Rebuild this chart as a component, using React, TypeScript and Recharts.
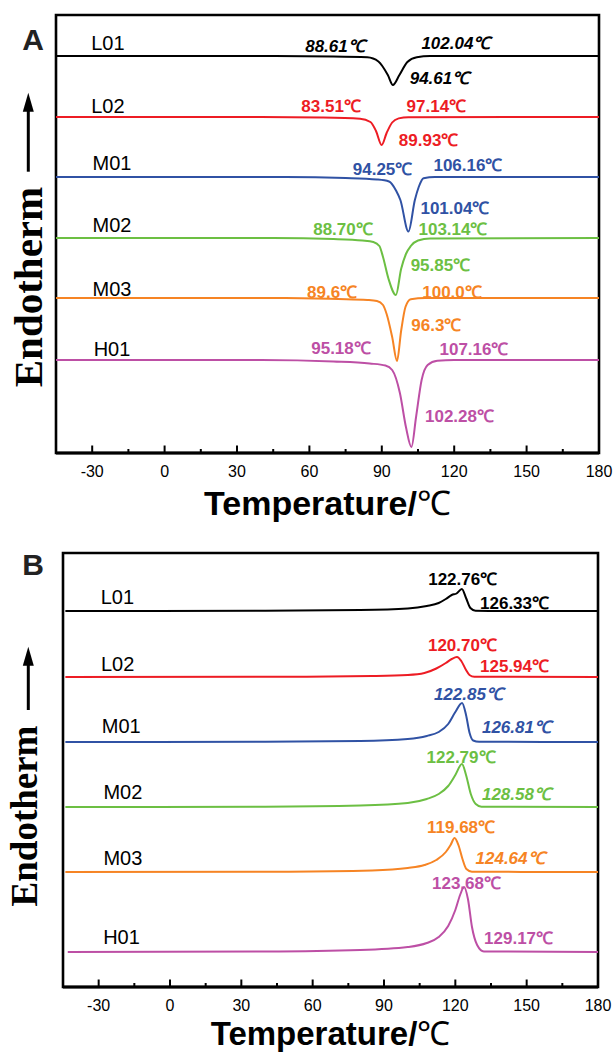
import React from 'react';
import { LineChart, Line, XAxis, YAxis, ReferenceArea, ReferenceDot } from 'recharts';

type Pt = { t: number; v: number };
type Ann = { s: number; t: number; v: number; text: string };

const SERIES = ['L01', 'L02', 'M01', 'M02', 'M03', 'H01'];
const COLORS = ['#000000', '#ed1c24', '#3052a4', '#6cbf43', '#f68424', '#bd4fa5'];

const X_DOMAIN: [number, number] = [-45, 180];
const X_TICKS = [-30, -15, 0, 15, 30, 45, 60, 75, 90, 105, 120, 135, 150, 165, 180];
const MAJOR_STEP = 30;

// ---------- Panel A (offset heat flow, melting troughs) ----------
const A_L01: Pt[] = [
  { t: -45, v: 397 }, { t: 45, v: 397 }, { t: 70, v: 396.6 }, { t: 84, v: 395.7 },
  { t: 88.6, v: 391.5 }, { t: 92.5, v: 378 }, { t: 94.61, v: 368 }, { t: 97.3, v: 378 },
  { t: 100.6, v: 391 }, { t: 104.5, v: 395.8 }, { t: 110, v: 396.9 }, { t: 180, v: 397 },
];
const A_L02: Pt[] = [
  { t: -45, v: 336 }, { t: 40, v: 336 }, { t: 65, v: 335.5 }, { t: 81, v: 334.3 },
  { t: 85.3, v: 331 }, { t: 87.6, v: 322 }, { t: 89.93, v: 308 }, { t: 92, v: 320 },
  { t: 94.3, v: 330.5 }, { t: 97, v: 334.6 }, { t: 101, v: 335.8 }, { t: 180, v: 336 },
];
const A_M01: Pt[] = [
  { t: -45, v: 276 }, { t: 50, v: 276 }, { t: 75, v: 275 }, { t: 88, v: 273.5 },
  { t: 93, v: 271.5 }, { t: 96, v: 262 }, { t: 97.7, v: 253 }, { t: 101.04, v: 221.5 },
  { t: 103.7, v: 253 }, { t: 105.3, v: 266 }, { t: 107.3, v: 274.8 }, { t: 112, v: 276 },
  { t: 180, v: 276 },
];
const A_M02: Pt[] = [
  { t: -45, v: 215 }, { t: 45, v: 215 }, { t: 70, v: 214 }, { t: 82, v: 212.5 },
  { t: 86.5, v: 211 }, { t: 89, v: 207 }, { t: 90.5, v: 196 }, { t: 92.8, v: 174 },
  { t: 95.85, v: 158 }, { t: 98, v: 184 }, { t: 100, v: 199 }, { t: 102, v: 207 },
  { t: 105, v: 212.5 }, { t: 110, v: 214.5 }, { t: 180, v: 215 },
];
const A_M03: Pt[] = [
  { t: -45, v: 155 }, { t: 50, v: 155 }, { t: 72, v: 154 }, { t: 84, v: 153 },
  { t: 88, v: 152 }, { t: 90.5, v: 148 }, { t: 92, v: 139 }, { t: 94.3, v: 116 },
  { t: 96.3, v: 92 }, { t: 98, v: 122 }, { t: 99.8, v: 146 }, { t: 102, v: 153.8 },
  { t: 108, v: 155 }, { t: 180, v: 155 },
];
const A_H01: Pt[] = [
  { t: -45, v: 93 }, { t: 40, v: 93 }, { t: 70, v: 91.5 }, { t: 85, v: 89.5 },
  { t: 91.5, v: 87.5 }, { t: 94.3, v: 83 }, { t: 97.5, v: 60 }, { t: 100, v: 26 },
  { t: 102.28, v: 6 }, { t: 104.2, v: 36 }, { t: 106.5, v: 73 }, { t: 109, v: 88 },
  { t: 113, v: 92.3 }, { t: 120, v: 93 }, { t: 180, v: 93 },
];
const A_SERIES = [A_L01, A_L02, A_M01, A_M02, A_M03, A_H01];

const A_NAME_POS: Pt[] = [
  { t: -23.5, v: 410 }, { t: -23.5, v: 347 }, { t: -21.8, v: 290 },
  { t: -21.8, v: 228 }, { t: -21.8, v: 164.5 }, { t: -21.8, v: 104.5 },
];
const A_ANN: Ann[] = [
  { s: 0, t: 70.6, v: 407.3, text: '88.61℃' },
  { s: 0, t: 120.7, v: 410, text: '102.04℃' },
  { s: 0, t: 113.9, v: 374.7, text: '94.61℃' },
  { s: 1, t: 69, v: 347, text: '83.51℃' },
  { s: 1, t: 112.6, v: 347.2, text: '97.14℃' },
  { s: 1, t: 109.4, v: 313, text: '89.93℃' },
  { s: 2, t: 90.3, v: 284.5, text: '94.25℃' },
  { s: 2, t: 125.7, v: 288, text: '106.16℃' },
  { s: 2, t: 120.3, v: 245, text: '101.04℃' },
  { s: 3, t: 73.9, v: 223.7, text: '88.70℃' },
  { s: 3, t: 119.5, v: 223.7, text: '103.14℃' },
  { s: 3, t: 114.3, v: 188, text: '95.85℃' },
  { s: 4, t: 69.4, v: 161, text: '89.6℃' },
  { s: 4, t: 119.1, v: 161, text: '100.0℃' },
  { s: 4, t: 112.6, v: 128, text: '96.3℃' },
  { s: 5, t: 73.1, v: 105, text: '95.18℃' },
  { s: 5, t: 128.2, v: 103.7, text: '107.16℃' },
  { s: 5, t: 122.2, v: 37.5, text: '102.28℃' },
];
const A_ITALIC = ['88.61℃', '102.04℃', '94.61℃'];

// ---------- Panel B (offset heat flow, crystallization peaks) ----------
const B_L01: Pt[] = [
  { t: -44, v: 376 }, { t: 40, v: 376.3 }, { t: 80, v: 377 }, { t: 100, v: 378.5 },
  { t: 108, v: 381 }, { t: 113, v: 384 }, { t: 116, v: 388 }, { t: 118.5, v: 392 },
  { t: 120.5, v: 393.5 }, { t: 122.76, v: 398 }, { t: 124.5, v: 389 }, { t: 126.33, v: 379 },
  { t: 128.5, v: 376.3 }, { t: 140, v: 376 }, { t: 180, v: 376 },
];
const B_L02: Pt[] = [
  { t: -44, v: 310 }, { t: 50, v: 310.3 }, { t: 85, v: 311 }, { t: 100, v: 312 },
  { t: 107, v: 314 }, { t: 112, v: 318.5 }, { t: 116, v: 324 }, { t: 118.5, v: 328 },
  { t: 120.7, v: 330 }, { t: 122.5, v: 326 }, { t: 124.5, v: 317 }, { t: 125.94, v: 312 },
  { t: 128, v: 310.3 }, { t: 180, v: 310 },
];
const B_M01: Pt[] = [
  { t: -44, v: 245 }, { t: 40, v: 245.3 }, { t: 80, v: 246 }, { t: 100, v: 248 },
  { t: 108, v: 251 }, { t: 113, v: 255 }, { t: 117, v: 263 }, { t: 120, v: 275 },
  { t: 122.85, v: 284 }, { t: 124.5, v: 272 }, { t: 126, v: 254 }, { t: 127.5, v: 246.5 },
  { t: 130, v: 245.2 }, { t: 180, v: 245 },
];
const B_M02: Pt[] = [
  { t: -44, v: 180 }, { t: 40, v: 180.3 }, { t: 80, v: 181.5 }, { t: 100, v: 184 },
  { t: 108, v: 188 }, { t: 113, v: 193 }, { t: 117, v: 201 }, { t: 120, v: 212 },
  { t: 122.79, v: 223 }, { t: 124.5, v: 212 }, { t: 126.5, v: 193 }, { t: 128.58, v: 183 },
  { t: 131, v: 180.3 }, { t: 180, v: 180 },
];
const B_M03: Pt[] = [
  { t: -44, v: 115 }, { t: 50, v: 115.3 }, { t: 85, v: 116.5 }, { t: 100, v: 119 },
  { t: 107, v: 122 }, { t: 112, v: 127 }, { t: 116, v: 135 }, { t: 118, v: 142 },
  { t: 119.68, v: 149 }, { t: 121.3, v: 142 }, { t: 123, v: 128 }, { t: 124.64, v: 118 },
  { t: 127, v: 115.3 }, { t: 180, v: 115 },
];
const B_H01: Pt[] = [
  { t: -43, v: 35 }, { t: 40, v: 35.5 }, { t: 80, v: 37 }, { t: 100, v: 40 },
  { t: 108, v: 44 }, { t: 113, v: 50 }, { t: 117, v: 61 }, { t: 120, v: 77 },
  { t: 122, v: 92 }, { t: 123.68, v: 100 }, { t: 125.3, v: 88 }, { t: 127, v: 60 },
  { t: 129.17, v: 42 }, { t: 132, v: 35.5 }, { t: 180, v: 35 },
];
const B_SERIES = [B_L01, B_L02, B_M01, B_M02, B_M03, B_H01];

const B_NAME_POS: Pt[] = [
  { t: -22.1, v: 390 }, { t: -22, v: 323.7 }, { t: -20.5, v: 261 },
  { t: -19.8, v: 195 }, { t: -19.8, v: 129 }, { t: -20.4, v: 50 },
];
const B_ANN: Ann[] = [
  { s: 0, t: 123.1, v: 408, text: '122.76℃' },
  { s: 0, t: 144.9, v: 384, text: '126.33℃' },
  { s: 1, t: 123, v: 342.5, text: '120.70℃' },
  { s: 1, t: 144.9, v: 320.7, text: '125.94℃' },
  { s: 2, t: 125.5, v: 292.7, text: '122.85℃' },
  { s: 2, t: 145.7, v: 260.5, text: '126.81℃' },
  { s: 3, t: 122.4, v: 230.3, text: '122.79℃' },
  { s: 3, t: 145.7, v: 193, text: '128.58℃' },
  { s: 4, t: 122.4, v: 160.3, text: '119.68℃' },
  { s: 4, t: 143, v: 128.7, text: '124.64℃' },
  { s: 5, t: 124.7, v: 104.3, text: '123.68℃' },
  { s: 5, t: 146.6, v: 48.7, text: '129.17℃' },
];
const B_ITALIC = ['122.85℃', '126.81℃', '128.58℃', '124.64℃'];

const SANS = '"Liberation Sans", Arial, Helvetica, sans-serif';
const SERIF = '"Liberation Serif", "Times New Roman", serif';

const textLabel = (text: string, color: string, size: number, weight: string, italic: boolean) =>
  (props: any) => {
    const vb = props.viewBox || { x: 0, y: 0, width: 0, height: 0 };
    const cx = vb.x + (vb.width || 0) / 2;
    const cy = vb.y + (vb.height || 0) / 2;
    return (
      <text x={cx} y={cy} dy="0.36em" textAnchor="middle" fill={color} fontSize={size}
        fontWeight={weight} fontStyle={italic ? 'italic' : 'normal'} fontFamily={SANS}>
        {text}
      </text>
    );
  };

const renderTick = (props: any) => {
  const { x, y, payload } = props;
  const major = payload.value % MAJOR_STEP === 0;
  return (
    <g>
      <line x1={x} x2={x} y1={y} y2={y - (major ? 7.5 : 4)} stroke="#000" strokeWidth={2} />
      {major && (
        <text x={x} y={y + 24} textAnchor="middle" fontSize={16} fontFamily={SANS} fill="#000">
          {payload.value}
        </text>
      )}
    </g>
  );
};

const xTitle = (dy: number, size: number) => (props: any) => {
  const vb = props.viewBox;
  return (
    <text x={vb.x + vb.width / 2} y={vb.y + dy} textAnchor="middle" fontFamily={SANS}
      fontSize={size} fontWeight="bold" fill="#000">
      Temperature/<tspan fontWeight="normal">℃</tspan>
    </text>
  );
};

type Decor = {
  letter: string; letterDy: number; tipDy: number; bottomDy: number;
  textDy: number; textX: number; fs: number;
};

const yDecor = (d: Decor) => (props: any) => {
  const vb = props.viewBox;
  const ax = vb.x + 28.3;
  const tip = vb.y + d.tipDy;
  const bottom = vb.y + d.bottomDy;
  const tx = vb.x + d.textX;
  const ty = vb.y + d.textDy;
  return (
    <g>
      <text x={vb.x + 33} y={vb.y + d.letterDy} textAnchor="middle" fontFamily={SANS}
        fontSize={30} fontWeight="bold" fill="#222">{d.letter}</text>
      <line x1={ax} x2={ax} y1={bottom} y2={tip + 14} stroke="#000" strokeWidth={3} />
      <polygon points={`${ax},${tip} ${ax - 5.5},${tip + 19} ${ax + 5.5},${tip + 19}`} fill="#000" />
      <text x={tx} y={ty} textAnchor="middle" transform={`rotate(-90, ${tx}, ${ty})`}
        fontFamily={SERIF} fontWeight="bold" fontSize={d.fs} fill="#000">Endotherm</text>
    </g>
  );
};

type PanelProps = {
  series: Pt[][]; names: Pt[]; ann: Ann[]; italic: string[]; yMax: number;
  height: number; top: number; right: number; yWidth: number; xHeight: number;
  titleDy: number; titleSize: number; decor: Decor;
};

function Panel(p: PanelProps) {
  return (
    <LineChart width={615} height={p.height}
      margin={{ top: p.top, right: p.right, bottom: 0, left: 0 }}>
      <ReferenceArea x1={X_DOMAIN[0]} x2={X_DOMAIN[1]} y1={0} y2={p.yMax} fill="none"
        stroke="#000" strokeWidth={2.6} />
      <XAxis type="number" dataKey="t" domain={X_DOMAIN} ticks={X_TICKS} interval={0}
        allowDataOverflow tickLine={false} tickSize={0} tickMargin={0} height={p.xHeight}
        axisLine={{ stroke: '#000', strokeWidth: 3 }} tick={renderTick}
        label={xTitle(p.titleDy, p.titleSize)} />
      <YAxis type="number" domain={[0, p.yMax]} allowDataOverflow width={p.yWidth}
        tick={false} tickLine={false} axisLine={false} label={yDecor(p.decor)} />
      {p.series.map((d, i) => (
        <Line key={SERIES[i]} data={d} dataKey="v" type="monotone" stroke={COLORS[i]}
          strokeWidth={2} dot={false} activeDot={false} isAnimationActive={false} />
      ))}
      {p.names.map((n, i) => (
        <ReferenceDot key={'n' + i} x={n.t} y={n.v} r={0} fill="none" stroke="none"
          label={textLabel(SERIES[i], '#000', 20, 'normal', false)} />
      ))}
      {p.ann.map((a, i) => (
        <ReferenceDot key={'a' + i} x={a.t} y={a.v} r={0} fill="none" stroke="none"
          label={textLabel(a.text, COLORS[a.s], 17, 'bold', p.italic.includes(a.text))} />
      ))}
    </LineChart>
  );
}

export default function App() {
  return (
    <div style={{ position: 'absolute', left: 0, top: 0, width: 615, height: 1053, background: '#fff' }}>
      <div style={{ position: 'absolute', left: 0, top: 0 }}>
        <Panel series={A_SERIES} names={A_NAME_POS} ann={A_ANN} italic={A_ITALIC} yMax={438}
          height={525} top={15} right={16} yWidth={56} xHeight={72} titleDy={62} titleSize={34}
          decor={{ letter: 'A', letterDy: 35, tipDy: 77.7, bottomDy: 156.7, textDy: 272, textX: 42, fs: 41 }} />
      </div>
      <div style={{ position: 'absolute', left: 0, top: 525 }}>
        <Panel series={B_SERIES} names={B_NAME_POS} ann={B_ANN} italic={B_ITALIC} yMax={434}
          height={528} top={28} right={17} yWidth={63} xHeight={66} titleDy={58} titleSize={33}
          decor={{ letter: 'B', letterDy: 22, tipDy: 93.7, bottomDy: 157, textDy: 263, textX: 37, fs: 37 }} />
      </div>
    </div>
  );
}
